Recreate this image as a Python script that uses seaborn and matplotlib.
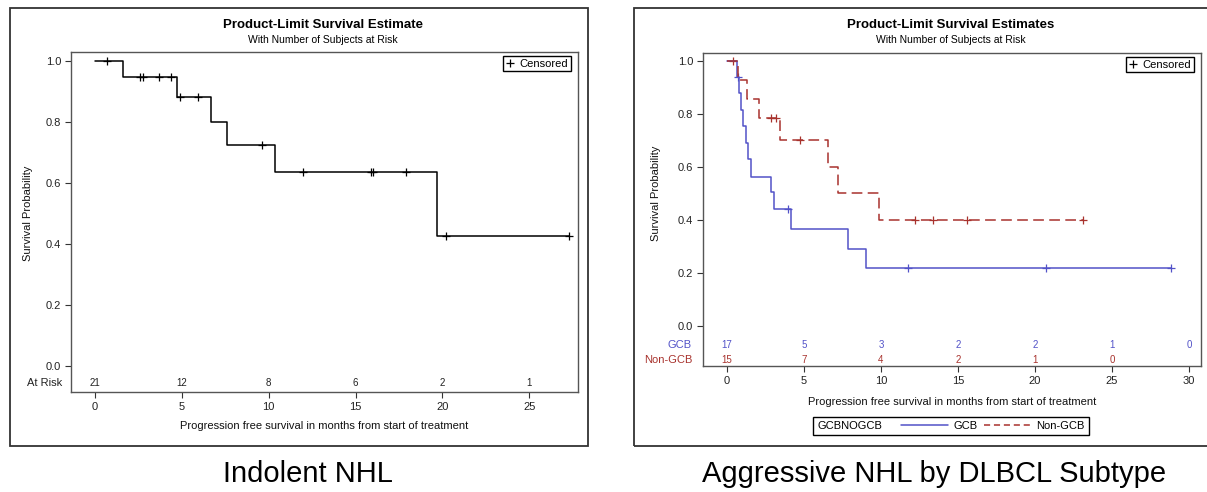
import numpy as np
import matplotlib
matplotlib.use("Agg")
import matplotlib.pyplot as plt
import seaborn as sns
from matplotlib.lines import Line2D
from matplotlib.patches import Rectangle
from matplotlib.transforms import blended_transform_factory
from matplotlib.offsetbox import HPacker

# ---------------- data ----------------
indolent_times = [0, 1.6, 4.7, 6.7, 7.6, 10.35, 19.7, 27.3]
indolent_surv = [1.0, 0.948, 0.882, 0.801, 0.726, 0.637, 0.425, 0.425]
indolent_censor = [0.7, 2.62, 2.76, 3.69, 4.39, 4.92, 5.94, 9.64, 11.96, 15.9, 16.0, 17.9, 20.2, 27.3]
indolent_risk_t = [0, 5, 10, 15, 20, 25]
indolent_risk_n = [21, 12, 8, 6, 2, 1]

gcb_times = [0, 0.65, 0.80, 0.90, 1.07, 1.26, 1.36, 1.55, 2.86, 3.03, 4.18, 7.88, 9.02, 28.8]
gcb_surv = [1.0, 0.94, 0.878, 0.815, 0.753, 0.69, 0.63, 0.563, 0.506, 0.441, 0.366, 0.291, 0.219, 0.219]
gcb_censor = [0.70, 4.0, 11.77, 20.7, 28.8]
gcb_risk_t = [0, 5, 10, 15, 20, 25, 30]
gcb_risk_n = [17, 5, 3, 2, 2, 1, 0]

ngcb_times = [0, 0.74, 1.31, 2.08, 3.46, 6.56, 7.2, 9.86, 23.1]
ngcb_surv = [1.0, 0.929, 0.857, 0.786, 0.70, 0.60, 0.50, 0.40, 0.40]
ngcb_censor = [0.4, 2.86, 3.2, 4.77, 12.2, 13.4, 15.6, 23.1]
ngcb_risk_t = [0, 5, 10, 15, 20, 25]
ngcb_risk_n = [15, 7, 4, 2, 1, 0]

y_ticks = [0.0, 0.2, 0.4, 0.6, 0.8, 1.0]
left_xticks = [0, 5, 10, 15, 20, 25]
right_xticks = [0, 5, 10, 15, 20, 25, 30]

titles = ["Product-Limit Survival Estimate", "Product-Limit Survival Estimates"]
subtitle = "With Number of Subjects at Risk"
xlabel = "Progression free survival in months from start of treatment"
ylabel = "Survival Probability"
captions = ["Indolent NHL", "Aggressive NHL by DLBCL Subtype"]

# ---------------- style ----------------
sns.set_style("ticks")
plt.rcParams["font.family"] = ["Liberation Sans", "DejaVu Sans"]
plt.rcParams["text.color"] = "black"
plt.rcParams["axes.labelcolor"] = "#111111"
BLUE = "#5252C8"
RED = "#A8322D"
FRAME = "#555555"

W, H = 1207, 492
fig = plt.figure(figsize=(W / 100, H / 100), dpi=100)


def fx(px):
    return px / W


def fy(py):
    return 1 - py / H


def step_at(times, surv, t):
    times = np.asarray(times)
    surv = np.asarray(surv)
    idx = np.searchsorted(times, t, side="right") - 1
    return surv[np.clip(idx, 0, len(surv) - 1)]


def style_axes(ax):
    for s in ax.spines.values():
        s.set_color(FRAME)
        s.set_linewidth(1.0)
    ax.tick_params(direction="out", length=4, width=0.8, color="#333333",
                   labelsize=8, labelcolor="#222222", pad=3)


def censored_legend(ax):
    h = [Line2D([], [], marker="+", ls="none", color="black", markersize=6, mew=0.9)]
    leg = ax.legend(h, ["Censored"], loc="upper right", frameon=True, fancybox=False,
                    edgecolor="black", framealpha=1, handlelength=0.8, handletextpad=0.4,
                    borderpad=0.25, borderaxespad=0.35, fontsize=8,
                    bbox_to_anchor=(0.993, 1.0))
    leg.get_frame().set_linewidth(1.0)
    return leg


# ---------------- left panel ----------------
axL = fig.add_axes([fx(71), fy(392), fx(578) - fx(71), fy(52) - fy(392)])
sns.lineplot(x=indolent_times, y=indolent_surv, drawstyle="steps-post", estimator=None,
             sort=False, color="black", lw=1.1, ax=axL)
sns.scatterplot(x=indolent_censor, y=step_at(indolent_times, indolent_surv, indolent_censor),
                marker="+", s=40, color="black", linewidth=0.9, ax=axL)
axL.set_xlim(-1.38, 27.8)
axL.set_ylim(-0.085, 1.0295)
axL.set_yticks(y_ticks)
axL.set_yticklabels([f"{v:.1f}" for v in y_ticks])
axL.set_xticks(left_xticks)
style_axes(axL)
axL.set_xlabel(xlabel, fontsize=8)
axL.set_ylabel(ylabel, fontsize=8)
axL.xaxis.set_label_coords(0.5, -0.085)
axL.yaxis.set_label_coords(-0.075, 0.5, transform=blended_transform_factory(axL.transAxes, axL.transData))
trL = axL.transData
for t, n in zip(indolent_risk_t, indolent_risk_n):
    axL.text(t, -0.056, str(n), ha="center", va="center", fontsize=7, color="#222222", transform=trL)
axL.text(-0.018, -0.056, "At Risk", ha="right", va="center", fontsize=8, color="#222222",
         transform=blended_transform_factory(axL.transAxes, axL.transData))
censored_legend(axL)

# ---------------- right panel ----------------
axR = fig.add_axes([fx(703), fy(366), fx(1201) - fx(703), fy(53) - fy(366)])
sns.lineplot(x=gcb_times, y=gcb_surv, drawstyle="steps-post", estimator=None,
             sort=False, color=BLUE, lw=1.1, ax=axR)
sns.lineplot(x=ngcb_times, y=ngcb_surv, drawstyle="steps-post", estimator=None,
             sort=False, color=RED, lw=1.1, linestyle=(0, (7, 3.5)), ax=axR)
sns.scatterplot(x=gcb_censor, y=step_at(gcb_times, gcb_surv, gcb_censor),
                marker="+", s=40, color=BLUE, linewidth=0.9, ax=axR)
sns.scatterplot(x=ngcb_censor, y=step_at(ngcb_times, ngcb_surv, ngcb_censor),
                marker="+", s=40, color=RED, linewidth=0.9, ax=axR)
axR.set_xlim(-1.55, 30.78)
axR.set_ylim(-0.151, 1.030)
axR.set_yticks(y_ticks)
axR.set_yticklabels([f"{v:.1f}" for v in y_ticks])
axR.set_xticks(right_xticks)
style_axes(axR)
axR.set_xlabel(xlabel, fontsize=8)
axR.set_ylabel(ylabel, fontsize=8)
axR.xaxis.set_label_coords(0.5, -0.099)
axR.yaxis.set_label_coords(-0.085, 0.5, transform=blended_transform_factory(axR.transAxes, axR.transData))
trR = axR.transData
for t, n in zip(gcb_risk_t, gcb_risk_n):
    axR.text(t, -0.072, str(n), ha="center", va="center", fontsize=7, color=BLUE, transform=trR)
for t, n in zip(ngcb_risk_t, ngcb_risk_n):
    axR.text(t, -0.128, str(n), ha="center", va="center", fontsize=7, color=RED, transform=trR)
bt = blended_transform_factory(axR.transAxes, axR.transData)
axR.text(-0.022, -0.072, "GCB", ha="right", va="center", fontsize=8, color=BLUE, transform=bt)
axR.text(-0.022, -0.128, "Non-GCB", ha="right", va="center", fontsize=8, color=RED, transform=bt)
censored_legend(axR)

# bottom group legend
grp_handles = [Line2D([], [], color=BLUE, lw=1.1),
               Line2D([], [], color=RED, lw=1.1, linestyle=(0, (4, 2.5)))]
leg = fig.legend(grp_handles, ["GCB", "Non-GCB"], title="GCBNOGCB", ncol=2,
                 loc="center", bbox_to_anchor=(fx(951), fy(426)), frameon=True,
                 fancybox=False, edgecolor="black", framealpha=1, fontsize=8,
                 title_fontsize=8, handlelength=4.2, handletextpad=0.5,
                 columnspacing=0.6, borderpad=0.25)
leg.get_frame().set_linewidth(1.0)
try:
    hp = HPacker(pad=leg.borderpad * 8 * 100 / 72, sep=14, align="center",
                 children=[leg._legend_title_box, leg._legend_handle_box])
    hp.set_figure(fig)
    hp.axes = leg.axes
    hp.set_offset(leg._findoffset)
    leg._legend_box = hp
except Exception:
    pass

# ---------------- titles, frames, captions ----------------
for cx, title in zip([323, 951], titles):
    fig.text(fx(cx), fy(25), title, ha="center", va="center", fontsize=9.5, fontweight="bold")
    fig.text(fx(cx), fy(40), subtitle, ha="center", va="center", fontsize=7.5)

fig.patches.append(Rectangle((fx(10), fy(446)), fx(588) - fx(10), fy(8) - fy(446),
                             transform=fig.transFigure, fill=False, edgecolor="#333333", lw=1.3))
fig.patches.append(Rectangle((fx(634), fy(446)), fx(1250) - fx(634), fy(8) - fy(446),
                             transform=fig.transFigure, fill=False, edgecolor="#333333", lw=1.3,
                             clip_on=False))

fig.text(fx(308), fy(474), captions[0], ha="center", va="center", fontsize=21, color="black")
fig.text(fx(934), fy(474), captions[1], ha="center", va="center", fontsize=21, color="black")

fig.savefig("out.png", dpi=100)
